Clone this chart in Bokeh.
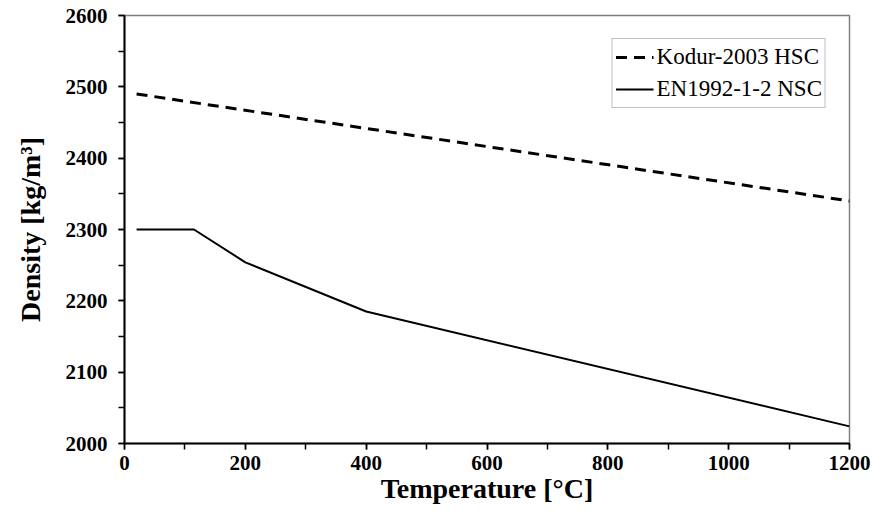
from bokeh.plotting import figure
from bokeh.models import Range1d, Legend, LegendItem, FixedTicker
from bokeh.embed import file_html
from bokeh.resources import INLINE

# Data
kodur_T = [20, 1200]
kodur_rho = [2490, 2340]
en_T = [20, 115, 200, 400, 1200]
en_rho = [2300, 2300, 2254, 2185, 2024]

x_ticks = [0, 200, 400, 600, 800, 1000, 1200]
y_ticks = [2000, 2100, 2200, 2300, 2400, 2500, 2600]

FONT = "Liberation Serif"

p = figure(width=873, height=515, output_backend="svg", toolbar_location=None,
           x_range=Range1d(0, 1200), y_range=Range1d(2000, 2600),
           min_border_left=124, min_border_right=24, min_border_top=15, min_border_bottom=72)
p.grid.visible = False
p.outline_line_color = "#808080"
p.outline_line_width = 1.5

r1 = p.line(kodur_T, kodur_rho, line_color="black", line_width=3, line_dash="11 7")
r2 = p.line(en_T, en_rho, line_color="black", line_width=2)

for ax in (p.xaxis[0], p.yaxis[0]):
    ax.axis_line_color = "black"
    ax.axis_line_width = 2
    ax.major_tick_in = 0
    ax.major_tick_out = 6
    ax.minor_tick_in = 0
    ax.minor_tick_out = 6
    ax.major_tick_line_width = 1.5
    ax.minor_tick_line_width = 1.5
    ax.major_label_text_font = FONT
    ax.major_label_text_font_style = "bold"
    ax.major_label_text_font_size = "21px"
    ax.major_label_text_color = "black"
    ax.axis_label_text_font = FONT
    ax.axis_label_text_font_style = "bold"
    ax.axis_label_text_font_size = "28px"
    ax.axis_label_text_color = "black"

p.xaxis.ticker = FixedTicker(ticks=x_ticks, minor_ticks=list(range(0, 1201, 100)))
p.yaxis.ticker = FixedTicker(ticks=y_ticks, minor_ticks=list(range(2000, 2601, 50)))
p.xaxis.axis_label = "Temperature [°C]"
p.yaxis.axis_label = "Density [kg/m³]"
p.xaxis.major_label_standoff = 6
p.yaxis.major_label_standoff = 11
p.xaxis.axis_label_standoff = 0
p.yaxis.axis_label_standoff = 17

legend = Legend(items=[LegendItem(label="Kodur-2003 HSC", renderers=[r1]),
                       LegendItem(label="EN1992-1-2 NSC", renderers=[r2])],
                location="top_right")
legend.margin = 23
legend.padding = 3
legend.spacing = 2
legend.glyph_width = 38
legend.glyph_height = 30
legend.label_height = 30
legend.label_standoff = 3
legend.label_text_font = FONT
legend.label_text_font_size = "23px"
legend.label_text_color = "black"
legend.border_line_color = "#808080"
legend.border_line_width = 1
legend.background_fill_color = "white"
p.add_layout(legend)

open("out.html", "w").write(file_html(p, INLINE))
